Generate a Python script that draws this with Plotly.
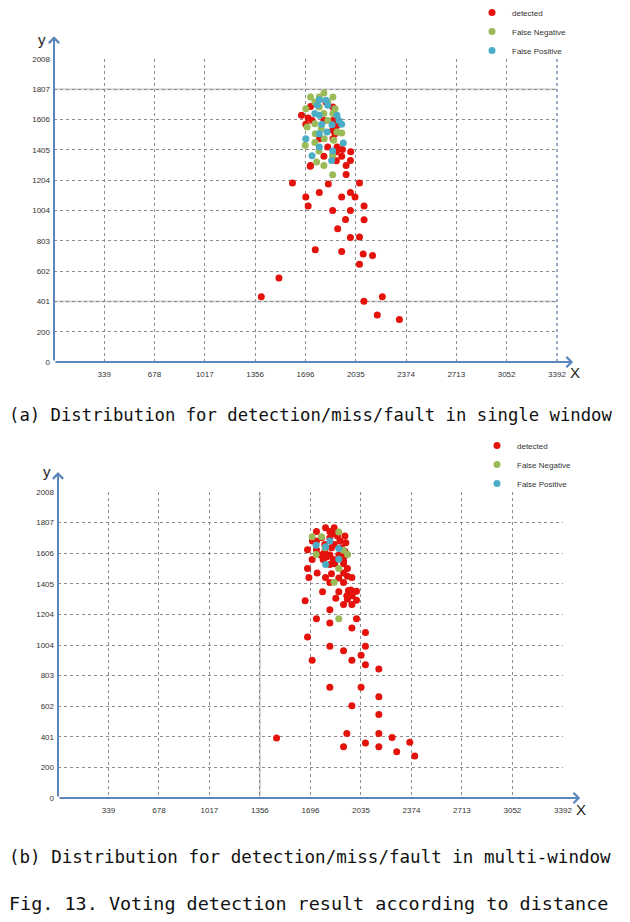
import plotly.graph_objects as go

# ---------------- data ----------------
x_tick_vals = [339, 678, 1017, 1356, 1696, 2035, 2374, 2713, 3052, 3392]
x_tick_text = ["339", "678", "1017", "1356", "1696", "2035", "2374", "2713", "3052", "3392"]
y_tick_vals = [0, 200, 401, 602, 803, 1004, 1204, 1405, 1606, 1807, 2008]
y_tick_text = ["0", "200", "401", "602", "803", "1004", "1204", "1405", "1606", "1807", "2008"]

series_names = ["detected", "False Negative", "False Positive"]

# (a) single window
a_det_x = [1608, 1850, 2060, 1698, 1789, 1940, 1999, 2030, 1714, 1879, 1999, 2091, 1966, 2091,
           1913, 1999, 2060, 1762, 1940, 2085, 2148, 2060, 1517, 1398, 2214, 2090, 2180, 2329,
           1730, 1669, 1714, 1741, 1698, 1820, 1881, 1881, 1908, 1879, 1791, 1881, 1846, 1909,
           1945, 1904, 2001, 1820, 1940, 1999, 1904, 1730, 1970, 1970, 1895, 1834, 1728]
a_det_y = [1186, 1179, 1186, 1093, 1124, 1093, 1124, 1093, 1033, 1004, 1004, 1033, 945, 942,
           883, 825, 828, 744, 733, 715, 706, 648, 556, 432, 432, 403, 312, 281,
           1694, 1635, 1617, 1601, 1575, 1601, 1601, 1690, 1568, 1535, 1480, 1480, 1425, 1425,
           1409, 1394, 1394, 1363, 1363, 1336, 1334, 1303, 1303, 1243, 1513, 1723, 1298]
a_fn_x = [1820, 1730, 1789, 1881, 1759, 1846, 1698, 1789, 1895, 1820, 1881, 1759, 1846, 1707,
          1802, 1908, 1940, 1762, 1822, 1886, 1759, 1694, 1787, 1879, 1771, 1820, 1879]
a_fn_y = [1783, 1756, 1756, 1756, 1723, 1723, 1679, 1690, 1679, 1646, 1646, 1579, 1601, 1557,
          1546, 1524, 1517, 1513, 1480, 1469, 1455, 1436, 1398, 1369, 1325, 1303, 1241]
a_fp_x = [1789, 1834, 1776, 1846, 1759, 1789, 1908, 1922, 1805, 1875, 1940, 1841, 1789, 1698,
          1951, 1789, 1879, 1740, 1872]
a_fp_y = [1738, 1734, 1701, 1701, 1646, 1635, 1635, 1601, 1575, 1573, 1575, 1524, 1513, 1480,
          1451, 1425, 1398, 1367, 1336]

# (b) multi-window
b_det_x = [1660, 1777, 1886, 1951, 1967, 2005, 1940, 1976, 1866, 1944, 2005, 1918, 1974, 1826,
           1736, 1826, 2005, 1974, 2065, 1676, 1826, 1918, 2065, 2036, 1707, 1974, 2065, 2155,
           1826, 2036, 2155, 1974, 2155, 1468, 1940, 2155, 2244, 1918, 2065, 2155, 2363, 2275,
           2396,
           1797, 1855, 1736, 1826, 1848, 1877, 1927, 1709, 1770, 1826, 1893, 1933, 1736, 1792,
           1855, 1676, 1736, 1792, 1837, 1904, 1927, 1765, 1826, 1886, 1922, 1707, 1781, 1848,
           1918, 1826, 1859, 1918, 1676, 1944, 1741, 1837, 1918, 1685, 1797, 1944, 1974, 1826,
           1918, 1886, 1803]
b_det_y = [1295, 1354, 1354, 1361, 1365, 1357, 1328, 1328, 1311, 1304, 1297, 1269, 1269, 1236,
           1176, 1148, 1176, 1115, 1086, 1056, 996, 966, 996, 937, 904, 904, 875, 847,
           726, 726, 665, 605, 548, 394, 423, 423, 397, 337, 361, 337, 366, 304,
           276,
           1774, 1774, 1748, 1748, 1735, 1719, 1719, 1686, 1708, 1708, 1686, 1675, 1686, 1664,
           1664, 1629, 1629, 1620, 1642, 1642, 1620, 1594, 1594, 1594, 1587, 1565, 1565, 1565,
           1554, 1532, 1537, 1537, 1506, 1506, 1477, 1471, 1477, 1447, 1447, 1455, 1447, 1414,
           1414, 1444, 1581]
b_fn_x = [1707, 1770, 1886, 1734, 1918, 1945, 1886, 1855, 1886, 1794]
b_fn_y = [1715, 1715, 1745, 1598, 1625, 1598, 1506, 1416, 1177, 1642]
b_fp_x = [1826, 1734, 1797, 1886, 1886, 1797]
b_fp_y = [1686, 1658, 1649, 1638, 1566, 1533]

captions = ["(a) Distribution for detection/miss/fault in single window",
            "(b) Distribution for detection/miss/fault in multi-window",
            "Fig. 13. Voting detection result according to distance"]

# ---------------- style / layout helpers ----------------
RED, GREEN, BLUE = "#e3120b", "#9bbb59", "#4bacc6"
AXIS_BLUE = "#5b85bd"
GRID = "#8c8c8c"
colors = [RED, GREEN, BLUE]

OFF = 8                      # page body margin around the figure
FW, FH = 630 - OFF, 922 - OFF

def fx(px):                  # page pixel -> paper fraction
    return (px - OFF) / FW

def fy(py):
    return 1 - (py - OFF) / FH

fig = go.Figure()

panels = [
    dict(xs=[a_det_x, a_fn_x, a_fp_x], ys=[a_det_y, a_fn_y, a_fp_y], xa="x", ya="y", leg="legend"),
    dict(xs=[b_det_x, b_fn_x, b_fp_x], ys=[b_det_y, b_fn_y, b_fp_y], xa="x2", ya="y2", leg="legend2"),
]
for p in panels:
    for name, xs, ys, c in zip(series_names, p["xs"], p["ys"], colors):
        fig.add_trace(go.Scatter(
            x=xs, y=ys, mode="markers", name=name, xaxis=p["xa"], yaxis=p["ya"],
            legend=p["leg"],
            marker=dict(color=c, size=7, line=dict(width=0)),
        ))

tickfont = dict(family="Liberation Sans, Arial, sans-serif", size=8, color="#333333")

def xaxis(dom, anchor):
    return dict(domain=dom, anchor=anchor, range=[0, 3392], tickmode="array",
                tickvals=x_tick_vals, ticktext=x_tick_text, showgrid=True,
                gridcolor=GRID, griddash="dot", gridwidth=1, zeroline=False,
                showline=False, ticks="", tickfont=tickfont, ticklabelstandoff=6)

def yaxis(dom, anchor):
    return dict(domain=dom, anchor=anchor, range=[0, 2008], tickmode="array",
                tickvals=y_tick_vals, ticktext=y_tick_text, showgrid=True,
                gridcolor=GRID, griddash="dot", gridwidth=1, zeroline=False,
                showline=False, ticks="", tickfont=tickfont, ticklabelstandoff=3)

legend_common = dict(font=dict(family="Liberation Sans, Arial, sans-serif", size=8, color="#333333"),
                     bgcolor="rgba(0,0,0,0)", itemwidth=30, tracegroupgap=0,
                     xanchor="left", yanchor="top")

fig.update_layout(
    width=FW, height=FH, margin=dict(l=0, r=0, t=0, b=0, autoexpand=False),
    paper_bgcolor="white", plot_bgcolor="white", showlegend=True,
    xaxis=xaxis([fx(54), fx(557)], "y"), yaxis=yaxis([fy(362), fy(59)], "x"),
    xaxis2=xaxis([fx(58), fx(563)], "y2"), yaxis2=yaxis([fy(798), fy(492)], "x2"),
    legend=dict(x=fx(472), y=fy(-2), **legend_common),
    legend2=dict(x=fx(477), y=fy(431), **legend_common),
)

# light solid highlight gridlines
fig.add_shape(type="line", xref="x domain", yref="y", x0=0, x1=1, y0=1807, y1=1807,
              line=dict(color="#d4d4d4", width=2), layer="below")
fig.add_shape(type="line", xref="x domain", yref="y", x0=0, x1=1, y0=401, y1=401,
              line=dict(color="#d4d4d4", width=2), layer="below")
fig.add_shape(type="line", xref="x2", yref="y2 domain", x0=1356, x1=1356, y0=0, y1=1,
              line=dict(color="#d4d4d4", width=2), layer="below")
# bluish dashed right border on the first panel
fig.add_shape(type="line", xref="x domain", yref="y domain", x0=1, x1=1, y0=0, y1=1,
              line=dict(color="#7a93b8", width=1.5, dash="dot"), layer="above")

# axis arrows
for xa, ya, ytip, xtip in [("x", "y", 1.075, 1.032), ("x2", "y2", 1.065, 1.034)]:
    fig.add_annotation(xref=f"{xa} domain", yref=f"{ya} domain", axref=f"{xa} domain",
                       ayref=f"{ya} domain", x=0, y=ytip, ax=0, ay=0, text="",
                       showarrow=True, arrowhead=4, arrowsize=1, arrowwidth=2,
                       arrowcolor=AXIS_BLUE)
    fig.add_annotation(xref=f"{xa} domain", yref=f"{ya} domain", axref=f"{xa} domain",
                       ayref=f"{ya} domain", x=xtip, y=0, ax=0, ay=0, text="",
                       showarrow=True, arrowhead=4, arrowsize=1, arrowwidth=2,
                       arrowcolor=AXIS_BLUE)

lab_font = dict(family="Liberation Sans, Arial, sans-serif", size=15, color="#222222")
for txt, px, py in [("y", 42, 39), ("X", 575, 373), ("y", 47, 471), ("X", 581, 809)]:
    fig.add_annotation(xref="paper", yref="paper", x=fx(px), y=fy(py), text=txt,
                       showarrow=False, xanchor="center", yanchor="middle", font=lab_font)

cap_sizes = [17.27, 17.54, 18.46]
for txt, yc, sz in zip(captions, [415, 857, 903], cap_sizes):
    fig.add_annotation(xref="paper", yref="paper", x=fx(7), y=fy(yc), text=txt,
                       showarrow=False, xanchor="left", yanchor="middle",
                       font=dict(family="DejaVu Sans Mono, monospace", size=sz, color="#111111"))

fig.write_html("out.html")
